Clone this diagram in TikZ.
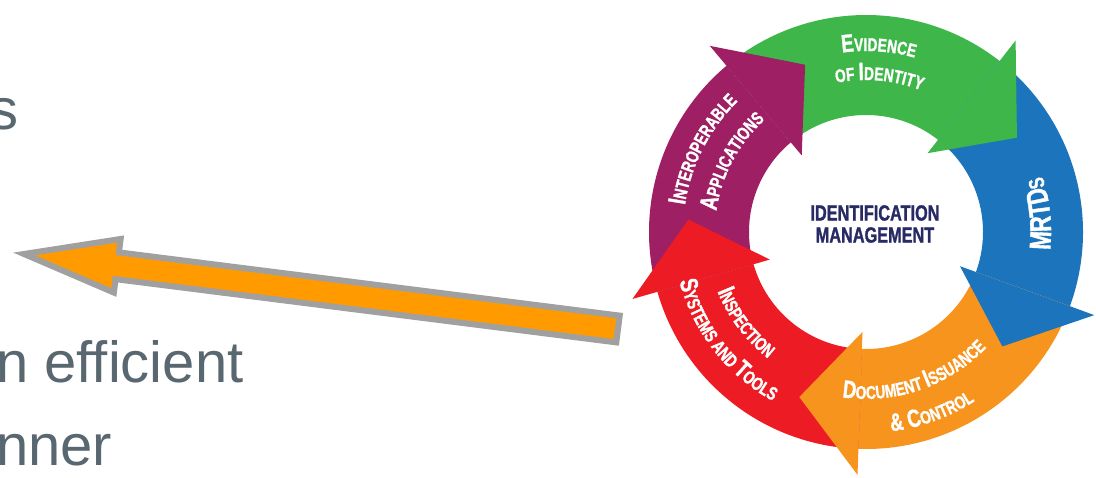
\documentclass[tikz,border=0pt]{standalone}
\usepackage{fontspec}
\setmainfont{Liberation Sans}
\newfontfamily\ringfont[FakeStretch=0.74, BoldFeatures={FakeBold=1.2}]{Liberation Sans}
\usetikzlibrary{calc, decorations.text}
\newcommand{\capbig}{\ringfont\bfseries\fontsize{25}{25}\selectfont}
\newcommand{\capsmall}{\ringfont\bfseries\fontsize{18.5}{18.5}\selectfont}
\newcommand{\capmr}{\ringfont\bfseries\fontsize{30}{30}\selectfont}
\newcommand{\capmrs}{\ringfont\bfseries\fontsize{22}{22}\selectfont}
\definecolor{evgreen}{RGB}{62, 182, 74}
\definecolor{mrblue}{RGB}{28, 117, 188}
\definecolor{docorange}{RGB}{247, 148, 29}
\definecolor{insred}{RGB}{237, 28, 36}
\definecolor{intpurple}{RGB}{158, 31, 99}
\definecolor{idnavy}{RGB}{40, 42, 100}
\definecolor{slidegray}{RGB}{89, 103, 112}
\definecolor{pointorange}{RGB}{255, 155, 0}
\definecolor{pointgray}{RGB}{160, 160, 160}

\begin{document}
\begin{tikzpicture}[
    x=1pt, y=1pt,
    every node/.style={inner sep=0pt},
    slidetext/.style={
        anchor=base west,
        text=slidegray,
        font=\fontsize{58}{58}\selectfont,
    },
    pointer/.style={
        fill=pointorange,
        draw=pointgray,
        line width=6pt,
        line join=miter,
    },
    ringtext/.style={
        decorate,
        decoration={text along path, text align=center, text color=white, text={#1}},
    },
]

% -- Canvas
\useasboundingbox (0,0) rectangle (1096,477);

% -- Cycle centre and radii
\coordinate (ctr) at (866,245);
\def\rin{117}
\def\rout{217}
\def\hin{100}
\def\hout{243}
\def\htip{178}

% -- Ring bodies
\fill[evgreen] ($(ctr)+(130:\rout)$) arc[start angle=130, end angle=52, radius=\rout]
    -- ($(ctr)+(52:\rin)$) arc[start angle=52, end angle=130, radius=\rin] -- cycle;
\fill[mrblue] ($(ctr)+(52:\rout)$) arc[start angle=52, end angle=-20, radius=\rout]
    -- ($(ctr)+(-20:\rin)$) arc[start angle=-20, end angle=52, radius=\rin] -- cycle;
\fill[docorange] ($(ctr)+(-20:\rout)$) arc[start angle=-20, end angle=-92, radius=\rout]
    -- ($(ctr)+(-92:\rin)$) arc[start angle=-92, end angle=-20, radius=\rin] -- cycle;
\fill[insred] ($(ctr)+(-92:\rout)$) arc[start angle=-92, end angle=-164, radius=\rout]
    -- ($(ctr)+(-164:\rin)$) arc[start angle=-164, end angle=-92, radius=\rin] -- cycle;
\fill[intpurple] ($(ctr)+(196:\rout)$) arc[start angle=196, end angle=130, radius=\rout]
    -- ($(ctr)+(130:\rin)$) arc[start angle=130, end angle=196, radius=\rin] -- cycle;

% -- Arrow heads (each lies over the next body)
\fill[evgreen] ($(ctr)+(52:\hout)$) -- ($(ctr)+(32:\htip)$) -- ($(ctr)+(52:\hin)$) -- cycle;
\fill[mrblue] ($(ctr)+(-20:\hout)$) -- ($(ctr)+(-40:\htip)$) -- ($(ctr)+(-20:\hin)$) -- cycle;
\fill[docorange] ($(ctr)+(-92:\hout)$) -- ($(ctr)+(-112:\htip)$) -- ($(ctr)+(-92:\hin)$) -- cycle;
\fill[insred] ($(ctr)+(196:\hout)$) -- ($(ctr)+(176:\htip)$) -- ($(ctr)+(196:\hin)$) -- cycle;
\fill[intpurple] ($(ctr)+(130:\hout)$) -- ($(ctr)+(110:\htip)$) -- ($(ctr)+(130:\hin)$) -- cycle;

% -- Ring labels
\path[ringtext={|\capbig|E|\capsmall|VIDENCE}]
    ($(ctr)+(126:181)$) arc[start angle=126, end angle=46, radius=181];
\path[ringtext={|\capsmall|OF |\capbig|I|\capsmall|DENTITY}]
    ($(ctr)+(125:152)$) arc[start angle=125, end angle=45, radius=152];
\path[ringtext={|\capmr|MRTD|\capmrs|S}]
    ($(ctr)+(-34:185)$) arc[start angle=-34, end angle=46, radius=185];
\path[ringtext={|\capbig|I|\capsmall|NTEROPERABLE}]
    ($(ctr)+(198:183)$) arc[start angle=198, end angle=108, radius=183];
\path[ringtext={|\capbig|A|\capsmall|PPLICATIONS}]
    ($(ctr)+(197:151)$) arc[start angle=197, end angle=107, radius=151];
\path[ringtext={|\capbig|I|\capsmall|NSPECTION}]
    ($(ctr)+(172:160)$) arc[start angle=172, end angle=262, radius=160];
\path[ringtext={|\capbig|S|\capsmall|YSTEMS AND |\capbig|T|\capsmall|OOLS}]
    ($(ctr)+(168:193)$) arc[start angle=168, end angle=268, radius=193];
\path[ringtext={|\capbig|D|\capsmall|OCUMENT |\capbig|I|\capsmall|SSUANCE}]
    ($(ctr)+(239:167)$) arc[start angle=239, end angle=339, radius=167];
\path[ringtext={|\capbig|{\&} C|\capsmall|ONTROL}]
    ($(ctr)+(240:201)$) arc[start angle=240, end angle=340, radius=201];

% -- Centre label
\node[font=\ringfont\bfseries\fontsize{22}{22}\selectfont, text=idnavy, align=center] (idm) at (875,253) {IDENTIFICATION\\MANAGEMENT};

% -- Slide text (cut at the left edge)
\node[slidetext] (lines) at (-11,347) {s};
\node[slidetext] (linee) at (-4,94) {n efficient};
\node[slidetext] (linem) at (-4,12) {nner};

% -- Big pointer from the cycle to the text
\coordinate (ptail) at (618,148);
\coordinate (ptip) at (24,223);
\coordinate (phead) at ($(ptip)!94pt!(ptail)$);
\filldraw[pointer] (ptip) -- ($(phead)!27pt!90:(ptail)$) -- ($(phead)!13.5pt!90:(ptail)$)
    -- ($(ptail)!13.5pt!-90:(phead)$) -- ($(ptail)!13.5pt!90:(phead)$)
    -- ($(phead)!13.5pt!-90:(ptail)$) -- ($(phead)!27pt!-90:(ptail)$) -- cycle;

\end{tikzpicture}
\end{document}
